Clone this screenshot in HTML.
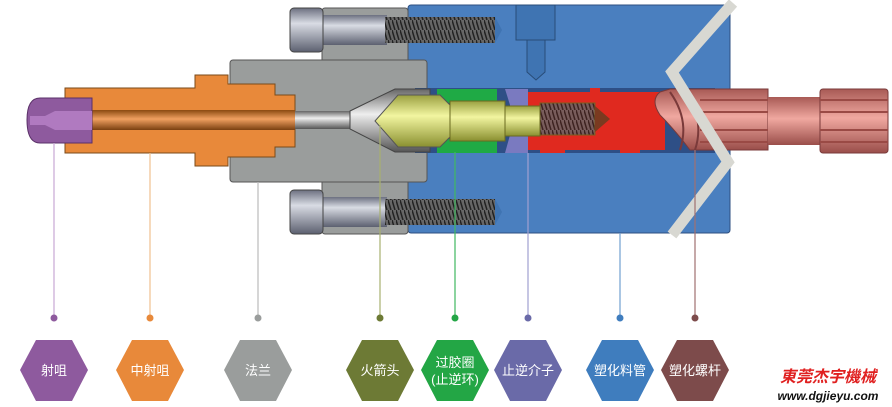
<!DOCTYPE html>
<html><head><meta charset="utf-8"><style>
html,body{margin:0;padding:0;background:#fff;width:892px;height:407px;overflow:hidden}
svg{display:block}
text{font-family:"Liberation Sans","Noto Sans CJK SC",sans-serif}
</style></head><body>
<svg width="892" height="407" viewBox="0 0 892 407" xmlns="http://www.w3.org/2000/svg">
<defs>
<linearGradient id="bolt" x1="0" y1="0" x2="0" y2="1"><stop offset="0" stop-color="#6c7080"/><stop offset=".35" stop-color="#d9dce4"/><stop offset="1" stop-color="#5c6070"/></linearGradient>
<linearGradient id="tube" x1="0" y1="0" x2="0" y2="1"><stop offset="0" stop-color="#666"/><stop offset=".4" stop-color="#eee"/><stop offset="1" stop-color="#555"/></linearGradient>
<linearGradient id="ora" x1="0" y1="0" x2="0" y2="1"><stop offset="0" stop-color="#8a4a10"/><stop offset=".45" stop-color="#f0a060"/><stop offset="1" stop-color="#7a4010"/></linearGradient>
<linearGradient id="yel" x1="0" y1="0" x2="0" y2="1"><stop offset="0" stop-color="#9aa040"/><stop offset=".4" stop-color="#f2f5a0"/><stop offset="1" stop-color="#8a9030"/></linearGradient>
<linearGradient id="pink" x1="0" y1="0" x2="0" y2="1"><stop offset="0" stop-color="#a85a55"/><stop offset=".45" stop-color="#f0a8a0"/><stop offset="1" stop-color="#9a4e4a"/></linearGradient>
<pattern id="thr" width="4" height="10" patternUnits="userSpaceOnUse"><rect width="4" height="10" fill="#666"/><line x1="0" y1="0" x2="3" y2="10" stroke="#222" stroke-width="1.5"/></pattern>
</defs>
<rect x="408" y="5" width="322" height="228" rx="3" fill="#4a7fbf" stroke="#2d4f80"/>
<rect x="516" y="5" width="39" height="35" fill="#3f74b2" stroke="#284c78"/>
<path d="M527 40 H545 V72 L536 80 L527 72 Z" fill="#3f74b2" stroke="#284c78"/>
<rect x="322" y="8" width="86" height="226" rx="3" fill="#9a9d9c" stroke="#555"/>
<rect x="230" y="60" width="197" height="122" rx="3" fill="#9a9d9c" stroke="#555"/>
<rect x="322" y="15" width="65" height="30" fill="url(#bolt)"/>
<rect x="385" y="17" width="110" height="26" fill="url(#thr)"/>
<path d="M495 17 L502 30 L495 43 Z" fill="#3f74b2"/>
<rect x="290" y="8" width="33" height="44" rx="4" fill="url(#bolt)" stroke="#444"/>
<rect x="322" y="197" width="65" height="30" fill="url(#bolt)"/>
<rect x="385" y="199" width="110" height="26" fill="url(#thr)"/>
<path d="M495 199 L502 212 L495 225 Z" fill="#3f74b2"/>
<rect x="290" y="190" width="33" height="44" rx="4" fill="url(#bolt)" stroke="#444"/>
<rect x="415" y="88" width="300" height="65" fill="#2e4f86"/>
<path d="M65 88 H195 V75 H228 V84 H275 V95 H295 V147 H275 V157 H228 V166 H195 V153 H65 Z" fill="#e8893a" stroke="#7a4a1a"/>
<rect x="90" y="110" width="205" height="20" fill="url(#ora)"/>
<path d="M40 98 H92 V143 H40 Q27 143 27 120 Q27 98 40 98 Z" fill="#8e5a9e" stroke="#5a3068"/>
<path d="M30 116 H45 L55 111 H92 V130 H55 L45 125 H30 Z" fill="#b07ac0"/>
<rect x="295" y="111" width="57" height="18" fill="url(#tube)"/>
<path d="M350 111 L395 89 H430 V152 H395 L350 129 Z" fill="url(#tube)" stroke="#444"/>
<rect x="437" y="89" width="60" height="14" fill="#1faa45"/>
<rect x="437" y="139" width="60" height="14" fill="#1faa45"/>
<path d="M505 89 H528 V153 H505 L510 135 V105 Z" fill="#7a7ac0"/>
<path d="M528 92 H590 V88 H600 V92 H665 V150 H640 V153 H620 V150 H565 V153 H540 V150 H528 Z" fill="#e0291f"/>
<path d="M375 121 L398 95 H440 L450 105 V137 L440 147 H398 Z" fill="url(#yel)" stroke="#555"/>
<rect x="450" y="101" width="55" height="40" fill="url(#yel)" stroke="#6a6a20"/>
<rect x="505" y="106" width="35" height="30" fill="url(#yel)" stroke="#6a6a20"/>
<rect x="540" y="103" width="55" height="32" fill="url(#thr)" stroke="#6a6a20" opacity=".85"/>
<path d="M595 106 L610 119 L595 132 Z" fill="#7a3a20"/>
<path d="M660 92 Q650 100 660 115 Q675 130 690 150 H768 V89 H670 Z" fill="url(#pink)" stroke="#7a3a3a"/>
<path d="M670 92 Q690 120 680 150 M685 90 Q705 120 695 150" stroke="#7a3a3a" stroke-width="2" fill="none"/>
<rect x="768" y="97" width="52" height="48" fill="url(#pink)"/>
<rect x="820" y="89" width="68" height="64" rx="3" fill="url(#pink)" stroke="#7a3a3a"/>
<g stroke="#9a4a45" stroke-width="2"><line x1="700" y1="100" x2="768" y2="100"/><line x1="700" y1="112" x2="768" y2="112"/><line x1="700" y1="130" x2="768" y2="130"/><line x1="700" y1="142" x2="768" y2="142"/><line x1="820" y1="100" x2="888" y2="100"/><line x1="820" y1="112" x2="888" y2="112"/><line x1="820" y1="130" x2="888" y2="130"/><line x1="820" y1="142" x2="888" y2="142"/></g>
<polyline points="733,3 672,72 728,162 672,235" fill="none" stroke="#d8d8d2" stroke-width="11"/>
<g stroke-width="1.2">
<line x1="54" y1="143" x2="54" y2="318" stroke="#c8a8d4"/>
<line x1="150" y1="153" x2="150" y2="318" stroke="#f0c090"/>
<line x1="258" y1="182" x2="258" y2="318" stroke="#bbb"/>
<line x1="380" y1="125" x2="380" y2="318" stroke="#a8b070"/>
<line x1="455" y1="152" x2="455" y2="318" stroke="#40b860"/>
<line x1="528" y1="153" x2="528" y2="318" stroke="#a0a0d0"/>
<line x1="620" y1="233" x2="620" y2="318" stroke="#70a0d0"/>
<line x1="695" y1="150" x2="695" y2="318" stroke="#a07070"/>
</g>
<g>
<circle cx="54" cy="318" r="3.5" fill="#8e5a9e"/><circle cx="150" cy="318" r="3.5" fill="#e8893a"/><circle cx="258" cy="318" r="3.5" fill="#9a9d9c"/><circle cx="380" cy="318" r="3.5" fill="#6d7a35"/><circle cx="455" cy="318" r="3.5" fill="#23a645"/><circle cx="528" cy="318" r="3.5" fill="#6a6aa8"/><circle cx="620" cy="318" r="3.5" fill="#3f7dbe"/><circle cx="695" cy="318" r="3.5" fill="#7d4b4b"/>
</g>
<g font-size="13" text-anchor="middle">
<polygon points="36,340 72,340 88,370 72,401 36,401 20,370" fill="#8e5a9e"/><text x="54" y="375" fill="#fff">射咀</text>
<polygon points="132,340 168,340 184,370 168,401 132,401 116,370" fill="#e8893a"/><text x="150" y="375" fill="#fff">中射咀</text>
<polygon points="240,340 276,340 292,370 276,401 240,401 224,370" fill="#9a9d9c"/><text x="258" y="375" fill="#fff">法兰</text>
<polygon points="362,340 398,340 414,370 398,401 362,401 346,370" fill="#6d7a35"/><text x="380" y="375" fill="#fff">火箭头</text>
<polygon points="437,340 473,340 489,370 473,401 437,401 421,370" fill="#23a645"/><text x="455" y="367" fill="#fff">过胶圈</text><text x="455" y="384" fill="#fff">(止逆环)</text>
<polygon points="510,340 546,340 562,370 546,401 510,401 494,370" fill="#6a6aa8"/><text x="528" y="375" fill="#fff">止逆介子</text>
<polygon points="602,340 638,340 654,370 638,401 602,401 586,370" fill="#3f7dbe"/><text x="620" y="375" fill="#fff">塑化料管</text>
<polygon points="677,340 713,340 729,370 713,401 677,401 661,370" fill="#7d4b4b"/><text x="695" y="375" fill="#fff">塑化螺杆</text>
</g>
<text x="828" y="382" font-size="16" fill="#e02020" font-style="italic" font-weight="bold" text-anchor="middle">東莞杰宇機械</text>
<text x="828" y="400" font-size="12" fill="#111" font-style="italic" font-weight="bold" text-anchor="middle">www.dgjieyu.com</text>
</svg>
</body></html>
